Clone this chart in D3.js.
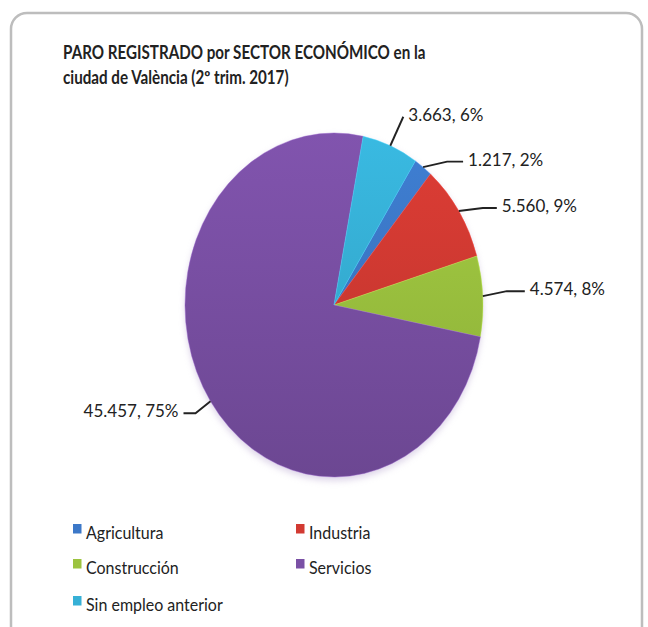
<!DOCTYPE html>
<html>
<head>
<meta charset="utf-8">
<script src="https://cdn.jsdelivr.net/npm/d3@7"></script>
<style>
  html, body { margin: 0; padding: 0; background: #fff; }
  svg { display: block; }
  text { font-family: Lato, "Open Sans", sans-serif; fill: #222; }
</style>
</head>
<body>
<svg id="chart" width="648" height="627"></svg>
<script>
// Paro registrado por sector económico, València, 2º trimestre 2017
const categories = ["Agricultura", "Industria", "Construcción", "Servicios", "Sin empleo anterior"];
const values = [1217, 5560, 4574, 45457, 3663];
const colors = ["#3c78c8", "#d23a32", "#9cc33f", "#7a50a5", "#36b0d6"];
const titleLines = ["PARO REGISTRADO por SECTOR ECONÓMICO en la", "ciudad de València (2º trim. 2017)"];

const W = 648, H = 627;
const svg = d3.select("#chart");

// card frame
svg.append("rect")
  .attr("x", 11).attr("y", 13).attr("width", 631).attr("height", 640)
  .attr("rx", 16).attr("ry", 16)
  .attr("fill", "#fff").attr("stroke", "#bdbdbd").attr("stroke-width", 2.5);

// title (slightly tall lettering)
const titleScale = 1.2;
const title = svg.append("text").attr("font-weight", "bold").attr("font-size", 15.2)
  .attr("transform", `translate(63,59) scale(1,${titleScale})`);
titleLines.forEach((t, i) => {
  title.append("tspan").attr("x", 0).attr("y", i * 25 / titleScale).text(t);
});

// pie geometry (drawn as circle then stretched vertically)
const cx = 334, cy = 305, r = 149, sy = 172 / 149;
const startDeg = 33.1;
const pie = d3.pie().sort(null).value(d => d)
  .startAngle(startDeg * Math.PI / 180)
  .endAngle(startDeg * Math.PI / 180 + 2 * Math.PI);
const arcs = pie(values);
const arc = d3.arc().innerRadius(0).outerRadius(r);

const defs = svg.append("defs");
colors.forEach((c, i) => {
  const g = defs.append("linearGradient").attr("id", "grad" + i)
    .attr("gradientUnits", "userSpaceOnUse")
    .attr("x1", 0).attr("y1", -r).attr("x2", 0).attr("y2", r);
  g.append("stop").attr("offset", 0).attr("stop-color", d3.color(c).brighter(0.15));
  g.append("stop").attr("offset", 1).attr("stop-color", d3.color(c).darker(0.35));
});
const blur = defs.append("filter").attr("id", "soft").attr("x", -0.2).attr("y", -0.2).attr("width", 1.4).attr("height", 1.4);
blur.append("feGaussianBlur").attr("stdDeviation", 3);

const pieG = svg.append("g").attr("transform", `translate(${cx},${cy}) scale(1,${sy})`);
// faint shadow beneath the pie
pieG.append("circle").attr("cx", 0).attr("cy", 3).attr("r", r)
  .attr("fill", "#b9a8d0").attr("opacity", 0.5).attr("filter", "url(#soft)");
pieG.selectAll("path.slice").data(arcs).join("path")
  .attr("class", "slice")
  .attr("d", arc)
  .attr("fill", (d, i) => `url(#grad${i})`)
  .attr("stroke", (d, i) => d3.color(colors[i]).brighter(0.6))
  .attr("stroke-width", 0.4);

// data labels with leader lines
const total = d3.sum(values);
const fmt = d3.formatLocale({ decimal: ",", thousands: ".", grouping: [3], currency: ["", "€"] }).format(",d");
// leader layout per slice: elbow offset from slice edge, horizontal run, text side
const leader = [
  { ex: 24, ey: -5.5, run: 16, side: 1 },
  { ex: 24, ey: -3, run: 14, side: 1 },
  { ex: 24, ey: -5, run: 18, side: 1 },
  { ex: -15, ey: 12, run: -12, side: -1 },
  { ex: 13, ey: -29, run: 0, side: 1 }
];
const labelG = svg.append("g");
arcs.forEach((a, i) => {
  const mid = (a.startAngle + a.endAngle) / 2;
  const ax = cx + r * Math.sin(mid);
  const ay = cy - r * Math.cos(mid) * sy;
  const L = leader[i];
  const bx = ax + L.ex, by = ay + L.ey;
  const ex2 = bx + L.run;
  labelG.append("path")
    .attr("d", d3.line()([[ax, ay], [bx, by], [ex2, by]]))
    .attr("fill", "none").attr("stroke", "#222").attr("stroke-width", 1.9);
  const pct = Math.round(values[i] / total * 100);
  labelG.append("text")
    .attr("x", ex2 + 5 * L.side)
    .attr("y", by - 2)
    .attr("dy", "0.35em")
    .attr("font-size", 17)
    .attr("text-anchor", L.side > 0 ? "start" : "end")
    .text(`${fmt(values[i])}, ${pct}%`);
});

// legend
const legendPos = [[73, 533], [296, 533], [73, 568], [296, 568], [73, 605]];
const leg = svg.append("g");
categories.forEach((c, i) => {
  const [x, y] = legendPos[i];
  leg.append("rect").attr("x", x).attr("y", y - 9).attr("width", 8.5).attr("height", 9.5)
    .attr("fill", colors[i]);
  leg.append("text")
    .attr("transform", `translate(${x + 13},${y}) scale(1,1.1)`)
    .attr("dy", "0.35em")
    .attr("font-size", 16).text(c);
});
</script>
</body>
</html>
